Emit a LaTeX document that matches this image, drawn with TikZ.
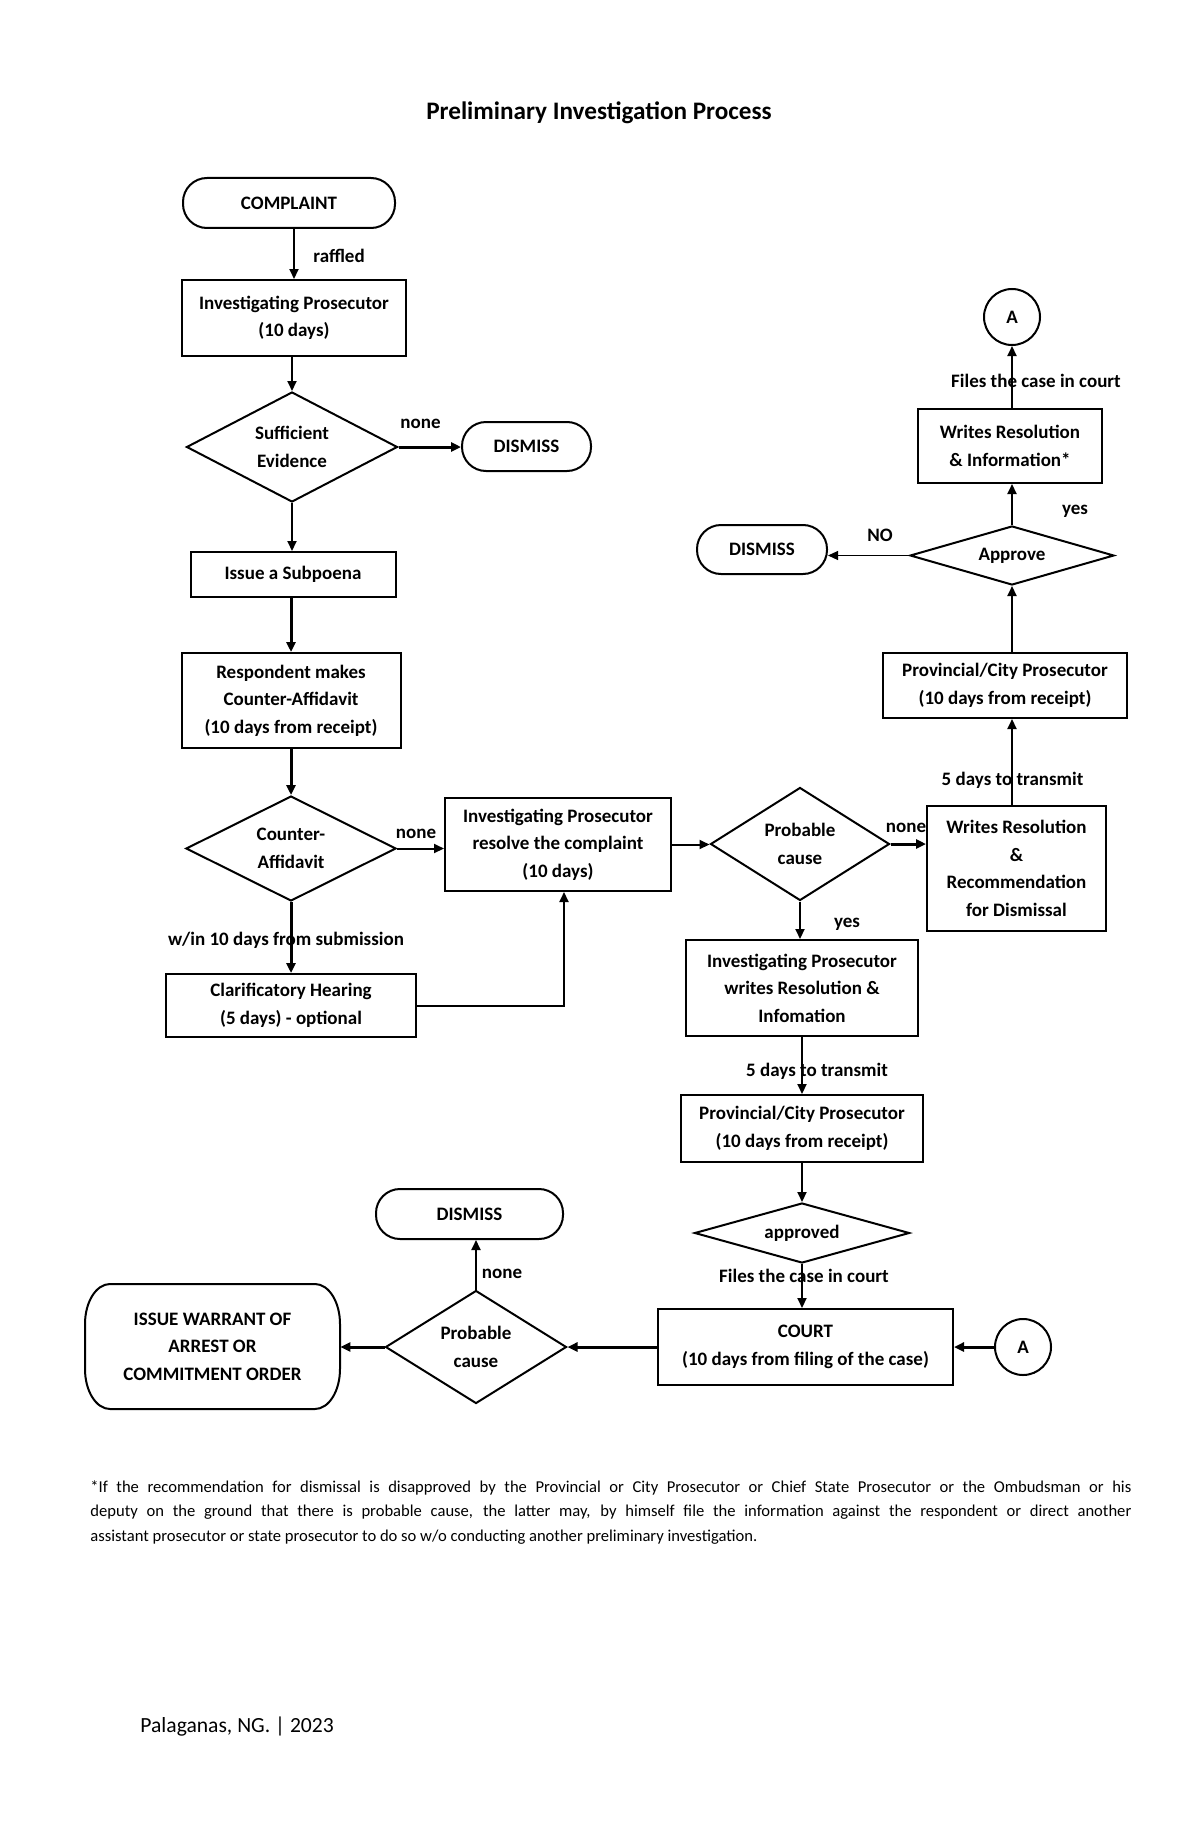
\documentclass[tikz,border=0pt]{standalone}
\usepackage{fontspec}
\setmainfont{Carlito}
\usetikzlibrary{shapes.geometric,arrows.meta}
\newcommand\boxfont{\bfseries\fontsize{9.5}{13.8}\selectfont}
\begin{document}
\begin{tikzpicture}[x=0.5pt,y=-0.5pt,
  box/.style={draw, line width=1pt, rectangle, align=center, font=\boxfont, inner sep=0pt},
  term/.style={box, rounded corners=12pt},
  dia/.style={draw, line width=1pt, diamond, aspect=1.6, align=center, inner sep=0pt, font=\boxfont},
  conn/.style={draw, line width=1pt, circle, minimum size=28pt, inner sep=0pt, font=\boxfont},
  arr/.style={line width=1pt, -{Triangle[length=5pt,width=4.5pt]}},
  tarr/.style={line width=1.5pt, -{Triangle[length=5pt,width=4.5pt]}},
  narr/.style={line width=0.6pt, -{Triangle[length=5pt,width=4.5pt]}},
  lbl/.style={font=\boxfont, inner sep=0pt, text height=7pt, text depth=2pt}]
\fill[white] (0,0) rectangle (1200,1835);
\useasboundingbox (0,0) rectangle (1200,1835);

% title
\node[font=\bfseries\fontsize{12.6}{14}\selectfont, inner sep=0pt] (title) at (599,113) {Preliminary Investigation Process};

% left column
\node[term, minimum width=106pt, minimum height=25pt] (complaint) at (289,203) {COMPLAINT};
\node[box, minimum width=112pt, minimum height=38pt] (ip1) at (294,318) {Investigating Prosecutor\\(10 days)};
\node[dia, minimum width=105.5pt, minimum height=55pt] (suff) at (292,447) {Sufficient\\Evidence};
\node[term, minimum width=64.5pt, minimum height=24.5pt] (dis1) at (526.5,446.5) {DISMISS};
\node[box, minimum width=102.5pt, minimum height=22.5pt] (subp) at (293,574.5) {Issue a Subpoena};
\node[box, minimum width=109.5pt, minimum height=47.5pt] (resp) at (291,700.5) {Respondent makes\\Counter-Affidavit\\(10 days from receipt)};
\node[dia, minimum width=105pt, minimum height=52.5pt] (ca) at (291,848.5) {Counter-\\Affidavit};
\node[box, minimum width=113pt, minimum height=46.5pt] (resolve) at (558,844.5) {Investigating Prosecutor\\resolve the complaint\\(10 days)};
\node[box, minimum width=125pt, minimum height=31.5pt] (clar) at (291,1005.5) {Clarificatory Hearing\\(5 days) - optional};

% middle column
\node[dia, minimum width=89.5pt, minimum height=56.5pt] (pc1) at (800,844) {Probable\\cause};
\node[box, minimum width=116pt, minimum height=48pt] (ipw) at (802,988) {Investigating Prosecutor\\writes Resolution \&\\Infomation};
\node[box, minimum width=121pt, minimum height=33.5pt] (prov2) at (802,1128.5) {Provincial/City Prosecutor\\(10 days from receipt)};
\node[dia, aspect=3, minimum width=107.5pt, minimum height=30pt] (apd) at (802,1233) {approved};
\node[box, minimum width=147.5pt, minimum height=38pt] (court) at (805.5,1347) {COURT\\(10 days from filing of the case)};
\node[conn] (a2) at (1023,1347) {A};

% right column
\coordinate (rc) at (1012,0);
\node[box, minimum width=89.5pt, minimum height=62.5pt] (wrec) at (1016.5,868.5) {Writes Resolution\\\&\\Recommendation\\for Dismissal};
\node[box, minimum width=122pt, minimum height=32.5pt] (prov1) at (1005,685.5) {Provincial/City Prosecutor\\(10 days from receipt)};
\node[dia, aspect=3, minimum width=102pt, minimum height=29.5pt] (appr) at (1012,555.5) {Approve};
\node[term, minimum width=65pt, minimum height=24.5pt] (dis2) at (762,549.5) {DISMISS};
\node[box, minimum width=92pt, minimum height=37pt] (winfo) at (1010,446) {Writes Resolution\\\& Information*};
\node[conn] (a1) at (1012,317) {A};

% bottom left
\node[dia, minimum width=90.5pt, minimum height=56.5pt] (pc2) at (476,1347) {Probable\\cause};
\node[term, minimum width=93.5pt, minimum height=25pt] (dis3) at (469.5,1214) {DISMISS};
\node[font=\boxfont, align=center, inner sep=0pt, minimum width=127.5pt, minimum height=62.5pt] (warrant) at (212.5,1346.5) {ISSUE WARRANT OF\\ARREST OR\\COMMITMENT ORDER};
\draw[line width=1pt] (110,1284) -- (315,1284) .. controls (328.8,1284) and (340,1301.9) .. (340,1324)
  -- (340,1369) .. controls (340,1391.1) and (328.8,1409) .. (315,1409)
  -- (110,1409) .. controls (96.2,1409) and (85,1391.1) .. (85,1369)
  -- (85,1324) .. controls (85,1301.9) and (96.2,1284) .. (110,1284) -- cycle;

% connectors
\draw[arr] (ip1.north |- complaint.south) -- (ip1.north);
\draw[arr] (suff.north |- ip1.south) -- (suff.north);
\draw[tarr] (suff.east) -- (suff.east -| dis1.west);
\draw[arr] (suff.south) -- (suff.south |- subp.north);
\draw[tarr] (resp.north |- subp.south) -- (resp.north);
\draw[tarr] (resp.south) -- (resp.south |- ca.north);
\draw[arr] (ca.east) -- (ca.east -| resolve.west);
\draw[tarr] (ca.south) -- (ca.south |- clar.north);
\draw[arr] (clar.east) -| ([xshift=3pt]resolve.south);
\draw[arr] (resolve.east) -- (resolve.east -| pc1.west);
\draw[tarr] (pc1.east) -- (pc1.east -| wrec.west);
\draw[arr] (pc1.south) -- (pc1.south |- ipw.north);
\draw[arr] (wrec.north -| rc) -- (prov1.south -| rc);
\draw[arr] (prov1.north -| appr.south) -- (appr.south);
\draw[narr] (appr.west) -- (appr.west -| dis2.east);
\draw[arr] (appr.north) -- (appr.north |- winfo.south);
\draw[arr] (winfo.north -| a1.south) -- (a1.south);
\draw[arr] (ipw.south) -- (ipw.south |- prov2.north);
\draw[arr] (prov2.south) -- (prov2.south |- apd.north);
\draw[arr] (apd.south) -- (apd.south |- court.north);
\draw[tarr] (a2.west) -- (a2.west -| court.east);
\draw[tarr] (court.west) -- (court.west -| pc2.east);
\draw[arr] (pc2.north) -- (pc2.north |- dis3.south);
\draw[tarr] (pc2.west) -- (pc2.west -| warrant.east);

% labels
\node[lbl, anchor=west] (l1) at (313,258) {raffled};
\node[lbl] (l2) at (420.5,423) {none};
\node[lbl] (l3) at (416,833) {none};
\node[lbl] (l4) at (286,940) {w/in 10 days from submission};
\node[lbl] (l5) at (906,827) {none};
\node[lbl] (l6) at (847,922) {yes};
\node[lbl] (l7) at (1012.5,780) {5 days to transmit};
\node[lbl] (l8) at (1075,509) {yes};
\node[lbl] (l9) at (880,536) {NO};
\node[lbl] (l10) at (1036,382) {Files the case in court};
\node[lbl] (l11) at (817,1071) {5 days to transmit};
\node[lbl] (l12) at (804,1277) {Files the case in court};
\node[lbl] (l13) at (502,1273) {none};

% footnote
\node[anchor=base west, text width=520.5pt, align=justify, inner sep=0pt, font=\fontsize{8.3}{12.25}\selectfont] (note) at (90,1492) {*If the recommendation for dismissal is disapproved by the Provincial or City Prosecutor or Chief State Prosecutor or the Ombudsman or his\linebreak deputy on the ground that there is probable cause, the latter may, by himself file the information against the respondent or direct another\linebreak assistant prosecutor or state prosecutor to do so w/o conducting another preliminary investigation.};
\node[anchor=base west, inner sep=0pt, font=\fontsize{10.8}{12}\selectfont] (sig) at (140,1732) {Palaganas, NG. | 2023};
\end{tikzpicture}
\end{document}
